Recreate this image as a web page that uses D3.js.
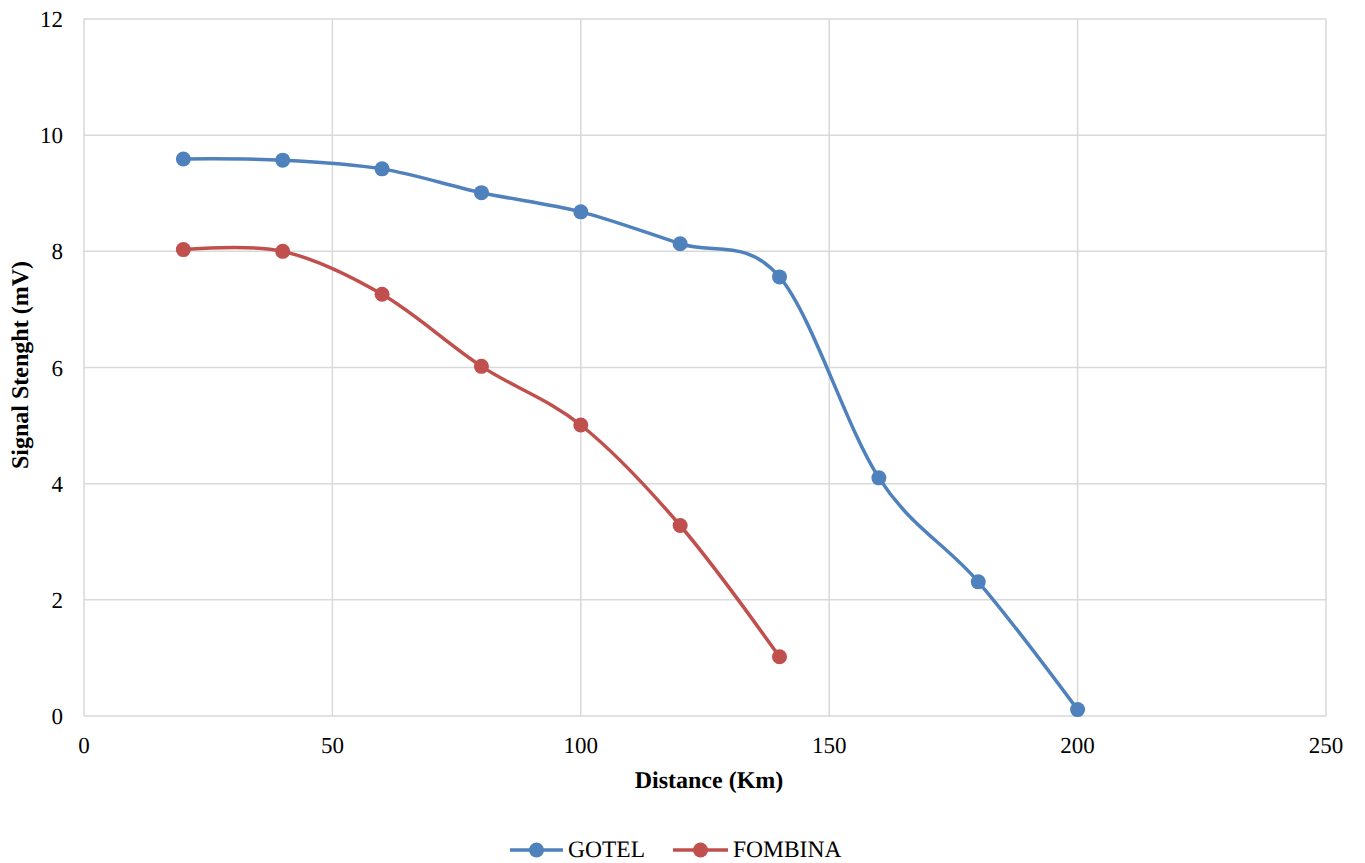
<!DOCTYPE html>
<html><head><meta charset="utf-8">
<script src="https://cdn.jsdelivr.net/npm/d3@7"></script>
<style>body{margin:0;background:#fff}svg{display:block}svg text{text-rendering:geometricPrecision}</style>
</head><body>
<svg id="c" width="1365" height="863" font-family="'Liberation Serif', 'Times New Roman', serif"></svg>
<script>
const distances = [20,40,60,80,100,120,140,160,180,200];
const gotel = [9.59,9.57,9.42,9.01,8.68,8.13,7.56,4.10,2.31,0.11];
const fombinaDist = [20,40,60,80,100,120,140];
const fombina = [8.03,8.00,7.26,6.02,5.01,3.28,1.02];
const xTicks = [0,50,100,150,200,250];
const yTicks = [0,2,4,6,8,10,12];
const seriesNames = ["GOTEL","FOMBINA"];
const colors = ["#4f81bd","#c0504d"];

const svg = d3.select("#c");
const L=84,R=1326,T=19,B=716;
const x = d3.scaleLinear().domain([0,250]).range([L,R]);
const y = d3.scaleLinear().domain([0,12]).range([B,T]);

svg.append("g").selectAll("line").data(yTicks).join("line")
  .attr("x1",L).attr("x2",R).attr("y1",d=>y(d)).attr("y2",d=>y(d))
  .attr("stroke","#d9d9d9").attr("stroke-width",1.5);
svg.append("g").selectAll("line").data(xTicks).join("line")
  .attr("y1",T).attr("y2",B).attr("x1",d=>x(d)).attr("x2",d=>x(d))
  .attr("stroke","#d9d9d9").attr("stroke-width",1.5);

svg.append("g").selectAll("text").data(yTicks).join("text")
  .attr("x",63).attr("y",d=>y(d)+8).attr("text-anchor","end")
  .attr("font-size",23).text(d=>d);
svg.append("g").selectAll("text").data(xTicks).join("text")
  .attr("x",d=>x(d)).attr("y",753).attr("text-anchor","middle")
  .attr("font-size",23).text(d=>d);

svg.append("text").attr("x",709).attr("y",788).attr("text-anchor","middle")
  .attr("font-size",24).attr("font-weight","bold").text("Distance (Km)");
svg.append("text").attr("transform","translate(28,365) rotate(-90)").attr("text-anchor","middle")
  .attr("font-size",24).attr("font-weight","bold").text("Signal Stenght (mV)");

const line = d3.line().x(d=>x(d[0])).y(d=>y(d[1])).curve(d3.curveCardinal.tension(0));
const data = [d3.zip(distances,gotel), d3.zip(fombinaDist,fombina)];
data.forEach((pts,i)=>{
  svg.append("path").attr("d",line(pts)).attr("fill","none")
    .attr("stroke",colors[i]).attr("stroke-width",3.5);
  svg.append("g").selectAll("circle").data(pts).join("circle")
    .attr("cx",d=>x(d[0])).attr("cy",d=>y(d[1])).attr("r",7.5).attr("fill",colors[i]);
});

const lg = [{x1:510,x2:563,tx:568},{x1:673,x2:728,tx:733}];
lg.forEach((l,i)=>{
  svg.append("line").attr("x1",l.x1).attr("x2",l.x2).attr("y1",850).attr("y2",850)
    .attr("stroke",colors[i]).attr("stroke-width",3.5);
  svg.append("circle").attr("cx",(l.x1+l.x2)/2).attr("cy",850).attr("r",7.5).attr("fill",colors[i]);
  svg.append("text").attr("x",l.tx).attr("y",857).attr("font-size",23.5).text(seriesNames[i]);
});
</script>
</body></html>
